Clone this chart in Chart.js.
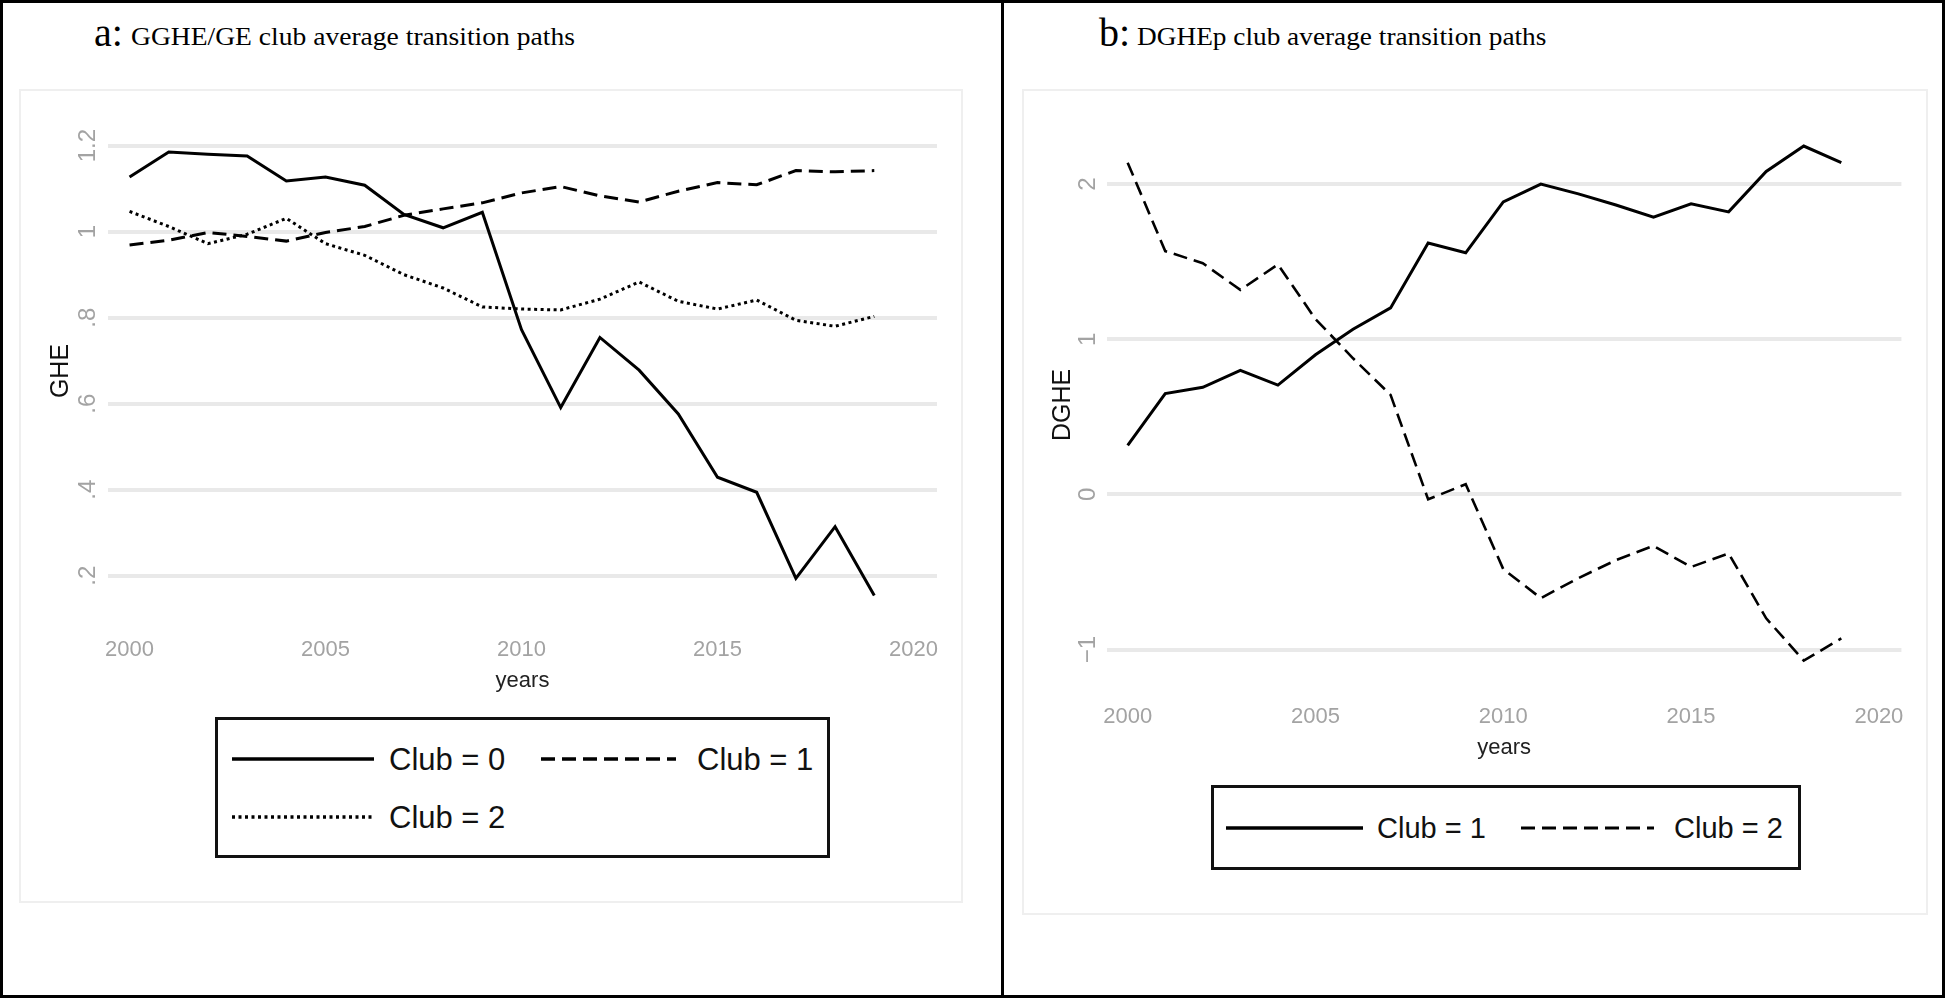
<!DOCTYPE html>
<html>
<head>
<meta charset="utf-8">
<script src="https://cdn.jsdelivr.net/npm/chart.js@4.4.1/dist/chart.umd.min.js"></script>
<style>
  html, body { margin: 0; padding: 0; background: #fff; }
  #frame { position: absolute; left: 0; top: 0; width: 1945px; height: 998px; box-sizing: border-box; border: 3px solid #000; }
  #divider { position: absolute; left: 1001px; top: 0; width: 3px; height: 998px; background: #000; }
  .panel { position: absolute; box-sizing: border-box; border: 2px solid #efefef; background: #fff; }
  .title { position: absolute; font-family: "Liberation Serif", "Times New Roman", serif; color: #000;
           white-space: nowrap; line-height: 1; transform-origin: 0 0; }
  canvas.chart { position: absolute; }
  .legend { position: absolute; box-sizing: border-box; border: 3px solid #111; background: #fff; }
  .legend canvas { position: absolute; }
  .legend span { position: absolute; font-family: "Liberation Sans", Arial, sans-serif; color: #111;
                 line-height: 1; white-space: nowrap; }
</style>
</head>
<body>
<div id="frame"></div>
<div id="divider"></div>

<div class="panel" style="left:19px; top:89px; width:944px; height:814px;"></div>
<div class="panel" style="left:1022px; top:89px; width:906px; height:826px;"></div>

<div class="title" style="left:94px; top:13px; font-size:40px;">a:</div>
<div class="title" style="left:131px; top:24px; font-size:26px; transform:scaleX(1.06);">GGHE/GE club average transition paths</div>
<div class="title" style="left:1099px; top:13px; font-size:40px;">b:</div>
<div class="title" style="left:1137px; top:24px; font-size:26px; transform:scaleX(1.05);">DGHEp club average transition paths</div>

<canvas class="chart" id="chartA" width="943" height="625" style="left:19px; top:89px;"></canvas>
<canvas class="chart" id="chartB" width="905" height="693" style="left:1022px; top:89px;"></canvas>

<div class="legend" id="legendA" style="left:215px; top:717px; width:615px; height:141px;"></div>
<div class="legend" id="legendB" style="left:1211px; top:785px; width:590px; height:85px;"></div>

<script>
// ---- data ----
const years = [2000, 2001, 2002, 2003, 2004, 2005, 2006, 2007, 2008, 2009,
               2010, 2011, 2012, 2013, 2014, 2015, 2016, 2017, 2018, 2019];

// panel a: GHE
const gheClub0 = [1.127, 1.185, 1.180, 1.176, 1.118, 1.127, 1.108, 1.040, 1.009, 1.045,
                  0.772, 0.591, 0.754, 0.678, 0.576, 0.429, 0.394, 0.194, 0.314, 0.154];
const gheClub1 = [0.969, 0.980, 0.998, 0.989, 0.978, 0.998, 1.012, 1.038, 1.053, 1.067,
                  1.090, 1.105, 1.083, 1.069, 1.094, 1.114, 1.109, 1.142, 1.139, 1.142];
const gheClub2 = [1.047, 1.012, 0.972, 0.994, 1.031, 0.972, 0.945, 0.900, 0.869, 0.825,
                  0.820, 0.818, 0.843, 0.883, 0.838, 0.820, 0.841, 0.794, 0.780, 0.803];

// panel b: DGHE
const dgheClub1 = [0.316, 0.650, 0.690, 0.799, 0.704, 0.900, 1.064, 1.202, 1.620, 1.557,
                   1.885, 2.000, 1.937, 1.865, 1.787, 1.873, 1.821, 2.081, 2.245, 2.138];
const dgheClub2 = [2.138, 1.568, 1.490, 1.318, 1.482, 1.130, 0.877, 0.641, -0.032, 0.065,
                   -0.482, -0.669, -0.540, -0.424, -0.332, -0.468, -0.381, -0.799, -1.072, -0.928];

const yearTicks = [2000, 2005, 2010, 2015, 2020];
const gheTicks = [0.2, 0.4, 0.6, 0.8, 1, 1.2];
const gheTickLabels = ['.2', '.4', '.6', '.8', '1', '1.2'];
const dgheTicks = [-1, 0, 1, 2];
const dgheTickLabels = ['\u22121', '0', '1', '2'];

// ---- styles ----
const tickColor = '#a3a3a3';
const gridColor = '#e9e9e9';
const sansFont = '"Liberation Sans", Arial, sans-serif';

function toPoints(values) {
  return years.map((yr, i) => ({ x: yr, y: values[i] }));
}

function lineSet(label, values, dash, width) {
  return {
    label: label,
    data: toPoints(values),
    borderColor: '#000',
    backgroundColor: '#000',
    borderWidth: width,
    borderDash: dash,
    pointRadius: 0,
    tension: 0,
    fill: false
  };
}

// y tick labels in this figure are vertical (Stata style), drawn through the y scale
const verticalYLabels = {
  id: 'verticalYLabels',
  afterDraw(chart, args, opts) {
    const scale = chart.scales.y;
    const ctx = chart.ctx;
    ctx.save();
    ctx.font = opts.font;
    ctx.fillStyle = opts.color;
    ctx.textAlign = 'center';
    ctx.textBaseline = 'middle';
    scale.ticks.forEach((tick, i) => {
      const y = scale.getPixelForValue(tick.value);
      ctx.save();
      ctx.translate(opts.x, y);
      ctx.rotate(-Math.PI / 2);
      ctx.fillText(opts.labels[i], 0, 0);
      ctx.restore();
    });
    ctx.restore();
  }
};

function makeChart(id, cfg) {
  return new Chart(document.getElementById(id), {
    type: 'line',
    data: { datasets: cfg.datasets },
    plugins: [verticalYLabels],
    options: {
      responsive: false,
      devicePixelRatio: 1,
      animation: false,
      layout: { padding: cfg.padding },
      plugins: {
        legend: { display: false },
        tooltip: { enabled: false },
        verticalYLabels: {
          x: cfg.yLabelX,
          labels: cfg.yLabels,
          font: '24px ' + sansFont,
          color: tickColor
        }
      },
      scales: {
        x: {
          type: 'linear',
          min: 1999.45,
          max: 2020.6,
          afterBuildTicks: (scale) => { scale.ticks = yearTicks.map(v => ({ value: v })); },
          afterFit: (scale) => { scale.height = 90; },
          grid: { display: false, drawTicks: false },
          border: { display: false },
          ticks: {
            padding: 23,
            color: tickColor,
            font: { family: sansFont, size: 22 },
            maxRotation: 0,
            callback: (v) => String(v)
          },
          title: {
            display: true,
            text: 'years',
            color: '#222',
            font: { family: sansFont, size: 22 },
            padding: { top: 0, bottom: 10 }
          }
        },
        y: {
          min: cfg.yMin,
          max: cfg.yMax,
          afterBuildTicks: (scale) => { scale.ticks = cfg.yTicks.map(v => ({ value: v })); },
          afterFit: (scale) => { scale.width = cfg.yWidth; },
          grid: { color: gridColor, lineWidth: 4, drawTicks: false },
          border: { display: false },
          ticks: { display: false },
          title: {
            display: true,
            text: cfg.yTitle,
            color: '#111',
            font: { family: sansFont, size: 25 },
            padding: { top: cfg.yTitlePad, bottom: 0 }
          }
        }
      }
    }
  });
}

const chartA = makeChart('chartA', {
  datasets: [
    lineSet('Club = 0', gheClub0, [], 3),
    lineSet('Club = 1', gheClub1, [14, 7], 3),
    lineSet('Club = 2', gheClub2, [3, 3.5], 3)
  ],
  padding: { left: 0, right: 25, top: 39, bottom: 10 },
  yMin: 0.111, yMax: 1.241,
  yTicks: gheTicks, yLabels: gheTickLabels,
  yWidth: 89, yLabelX: 69.5,
  yTitle: 'GHE', yTitlePad: 27
});

const chartB = makeChart('chartB', {
  datasets: [
    lineSet('Club = 1', dgheClub1, [], 3),
    lineSet('Club = 2', dgheClub2, [14, 7], 2.6)
  ],
  padding: { left: 0, right: 23, top: 40, bottom: 11 },
  yMin: -1.203, yMax: 2.355,
  yTicks: dgheTicks, yLabels: dgheTickLabels,
  yWidth: 85, yLabelX: 66.5,
  yTitle: 'DGHE', yTitlePad: 26
});

// legend boxes built from the chart datasets
function buildLegend(boxId, chart, slots, fontSize) {
  const box = document.getElementById(boxId);
  chart.data.datasets.forEach((ds, i) => {
    const s = slots[i];
    const c = document.createElement('canvas');
    c.width = s.w; c.height = 12;
    c.style.left = (s.x - 3) + 'px';
    c.style.top = (s.y - 3 - 6) + 'px';
    const ctx = c.getContext('2d');
    ctx.strokeStyle = ds.borderColor;
    ctx.lineWidth = ds.borderWidth + 0.5;
    ctx.setLineDash(ds.borderDash);
    ctx.beginPath();
    ctx.moveTo(0, 6);
    ctx.lineTo(s.w, 6);
    ctx.stroke();
    box.appendChild(c);

    const t = document.createElement('span');
    t.textContent = ds.label;
    t.style.fontSize = fontSize + 'px';
    t.style.left = (s.tx - 3) + 'px';
    t.style.top = (s.y - 3 - fontSize * 0.5) + 'px';
    box.appendChild(t);
  });
}

buildLegend('legendA', chartA, [
  { x: 17, w: 142, tx: 174, y: 42 },
  { x: 326, w: 135, tx: 482, y: 42 },
  { x: 17, w: 142, tx: 174, y: 100 }
], 31);

buildLegend('legendB', chartB, [
  { x: 15, w: 137, tx: 166, y: 43 },
  { x: 310, w: 133, tx: 463, y: 43 }
], 29);
</script>
</body>
</html>
